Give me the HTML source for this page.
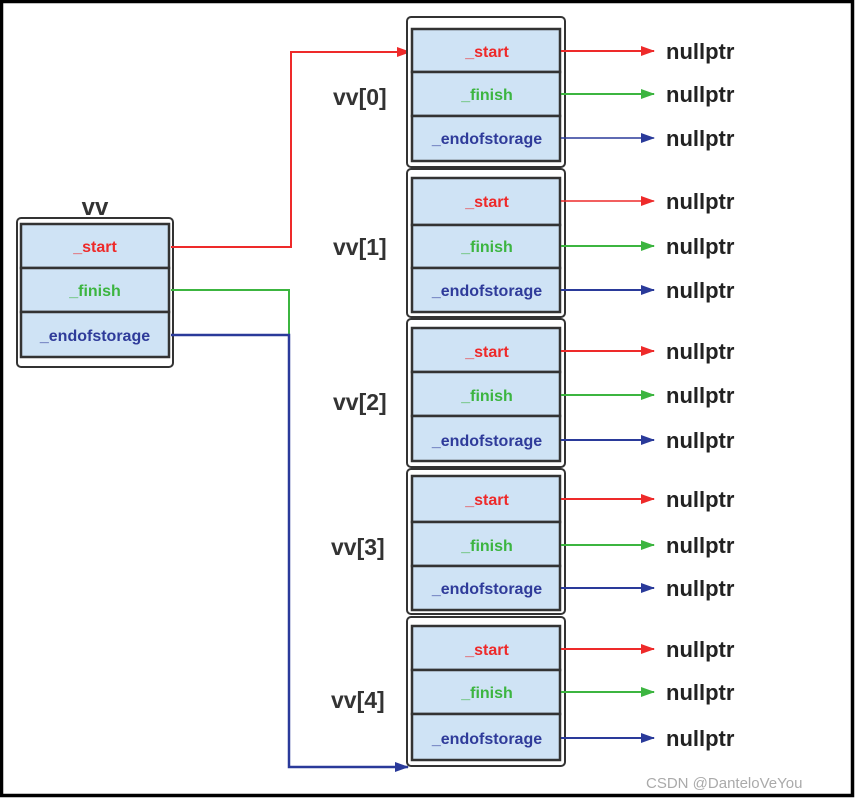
<!DOCTYPE html>
<html><head><meta charset="utf-8"><style>
html,body{margin:0;padding:0;background:#fff;width:857px;height:799px;overflow:hidden}
svg{display:block}
text{font-family:"Liberation Sans",sans-serif}
.c{fill:#cfe3f5;stroke:#333;stroke-width:2.5}
.o{fill:#fff;stroke:#333;stroke-width:2}
.l{font-size:16px;font-weight:bold;text-anchor:middle}
.n{font-size:22px;font-weight:bold;fill:#222}
.v{font-size:23px;font-weight:bold;fill:#333}
</style></head><body>
<svg width="857" height="799" viewBox="0 0 857 799">
<defs>
<marker id="ar" markerWidth="14" markerHeight="10" refX="13" refY="5" orient="auto" markerUnits="userSpaceOnUse"><path d="M0,0 L14,5 L0,10z" fill="#ee2a2a"/></marker>
<marker id="ag" markerWidth="14" markerHeight="10" refX="13" refY="5" orient="auto" markerUnits="userSpaceOnUse"><path d="M0,0 L14,5 L0,10z" fill="#3cb540"/></marker>
<marker id="ab" markerWidth="14" markerHeight="10" refX="13" refY="5" orient="auto" markerUnits="userSpaceOnUse"><path d="M0,0 L14,5 L0,10z" fill="#2a3a9a"/></marker>
</defs>
<rect x="1.5" y="1.5" width="851" height="794" fill="#fff" stroke="#000" stroke-width="3.5"/>

<text x="95" y="215" class="v" text-anchor="middle" style="font-size:24px">vv</text>
<rect x="17" y="218" width="156" height="149" rx="4" class="o"/>
<rect x="21" y="224" width="148" height="44" class="c"/>
<rect x="21" y="268" width="148" height="44" class="c"/>
<rect x="21" y="312" width="148" height="45" class="c"/>
<text x="95" y="252" class="l" fill="#ee2a2a">_start</text>
<text x="95" y="296" class="l" fill="#3cb540">_finish</text>
<text x="95" y="341" class="l" fill="#2f3b9a">_endofstorage</text>

<polyline points="171,247 291,247 291,52 410,52" fill="none" stroke="#ee2a2a" stroke-width="2" marker-end="url(#ar)"/>
<polyline points="171,290 289,290 289,336" fill="none" stroke="#3cb540" stroke-width="2"/>
<polyline points="171,335 289,335 289,767 408,767" fill="none" stroke="#2a3a9a" stroke-width="2.5" marker-end="url(#ab)"/>

<g>
<rect x="407" y="17" width="158" height="150" rx="4" class="o"/>
<rect x="412" y="29" width="148" height="43" class="c"/><rect x="412" y="72" width="148" height="44" class="c"/><rect x="412" y="116" width="148" height="45" class="c"/>
<text x="487" y="57" class="l" fill="#ee2a2a">_start</text><text x="487" y="100" class="l" fill="#3cb540">_finish</text><text x="487" y="144" class="l" fill="#2f3b9a">_endofstorage</text>
<text x="333" y="105" class="v">vv[0]</text>
</g>
<g>
<rect x="407" y="169" width="158" height="148" rx="4" class="o"/>
<rect x="412" y="178" width="148" height="47" class="c"/><rect x="412" y="225" width="148" height="43" class="c"/><rect x="412" y="268" width="148" height="44" class="c"/>
<text x="487" y="207" class="l" fill="#ee2a2a">_start</text><text x="487" y="252" class="l" fill="#3cb540">_finish</text><text x="487" y="296" class="l" fill="#2f3b9a">_endofstorage</text>
<text x="333" y="255" class="v">vv[1]</text>
</g>
<g>
<rect x="407" y="319" width="158" height="148" rx="4" class="o"/>
<rect x="412" y="328" width="148" height="44" class="c"/><rect x="412" y="372" width="148" height="44" class="c"/><rect x="412" y="416" width="148" height="45" class="c"/>
<text x="487" y="357" class="l" fill="#ee2a2a">_start</text><text x="487" y="401" class="l" fill="#3cb540">_finish</text><text x="487" y="446" class="l" fill="#2f3b9a">_endofstorage</text>
<text x="333" y="410" class="v">vv[2]</text>
</g>
<g>
<rect x="407" y="469" width="158" height="145" rx="4" class="o"/>
<rect x="412" y="476" width="148" height="46" class="c"/><rect x="412" y="522" width="148" height="44" class="c"/><rect x="412" y="566" width="148" height="44" class="c"/>
<text x="487" y="505" class="l" fill="#ee2a2a">_start</text><text x="487" y="551" class="l" fill="#3cb540">_finish</text><text x="487" y="594" class="l" fill="#2f3b9a">_endofstorage</text>
<text x="331" y="555" class="v">vv[3]</text>
</g>
<g>
<rect x="407" y="617" width="158" height="149" rx="4" class="o"/>
<rect x="412" y="626" width="148" height="44" class="c"/><rect x="412" y="670" width="148" height="44" class="c"/><rect x="412" y="714" width="148" height="46" class="c"/>
<text x="487" y="655" class="l" fill="#ee2a2a">_start</text><text x="487" y="698" class="l" fill="#3cb540">_finish</text><text x="487" y="744" class="l" fill="#2f3b9a">_endofstorage</text>
<text x="331" y="708" class="v">vv[4]</text>
</g>

<g stroke-width="2" fill="none">
<line x1="561" y1="51" x2="654" y2="51" stroke="#ee2a2a" marker-end="url(#ar)"/>
<line x1="561" y1="94" x2="654" y2="94" stroke="#3cb540" marker-end="url(#ag)"/>
<line x1="561" y1="138" x2="654" y2="138" stroke="#2a3a9a" stroke-width="1.5" marker-end="url(#ab)"/>
<line x1="561" y1="201" x2="654" y2="201" stroke="#ee2a2a" stroke-width="1.5" marker-end="url(#ar)"/>
<line x1="561" y1="246" x2="654" y2="246" stroke="#3cb540" marker-end="url(#ag)"/>
<line x1="561" y1="290" x2="654" y2="290" stroke="#2a3a9a" marker-end="url(#ab)"/>
<line x1="561" y1="351" x2="654" y2="351" stroke="#ee2a2a" marker-end="url(#ar)"/>
<line x1="561" y1="395" x2="654" y2="395" stroke="#3cb540" marker-end="url(#ag)"/>
<line x1="561" y1="440" x2="654" y2="440" stroke="#2a3a9a" marker-end="url(#ab)"/>
<line x1="561" y1="499" x2="654" y2="499" stroke="#ee2a2a" marker-end="url(#ar)"/>
<line x1="561" y1="545" x2="654" y2="545" stroke="#3cb540" marker-end="url(#ag)"/>
<line x1="561" y1="588" x2="654" y2="588" stroke="#2a3a9a" marker-end="url(#ab)"/>
<line x1="561" y1="649" x2="654" y2="649" stroke="#ee2a2a" marker-end="url(#ar)"/>
<line x1="561" y1="692" x2="654" y2="692" stroke="#3cb540" marker-end="url(#ag)"/>
<line x1="561" y1="738" x2="654" y2="738" stroke="#2a3a9a" marker-end="url(#ab)"/>
</g>
<g class="n">
<text x="666" y="59" class="n">nullptr</text>
<text x="666" y="102" class="n">nullptr</text>
<text x="666" y="146" class="n">nullptr</text>
<text x="666" y="209" class="n">nullptr</text>
<text x="666" y="254" class="n">nullptr</text>
<text x="666" y="298" class="n">nullptr</text>
<text x="666" y="359" class="n">nullptr</text>
<text x="666" y="403" class="n">nullptr</text>
<text x="666" y="448" class="n">nullptr</text>
<text x="666" y="507" class="n">nullptr</text>
<text x="666" y="553" class="n">nullptr</text>
<text x="666" y="596" class="n">nullptr</text>
<text x="666" y="657" class="n">nullptr</text>
<text x="666" y="700" class="n">nullptr</text>
<text x="666" y="746" class="n">nullptr</text>
</g>
<text x="646" y="788" style="font-size:15px" fill="#aaa">CSDN @DanteloVeYou</text>
</svg>
</body></html>
